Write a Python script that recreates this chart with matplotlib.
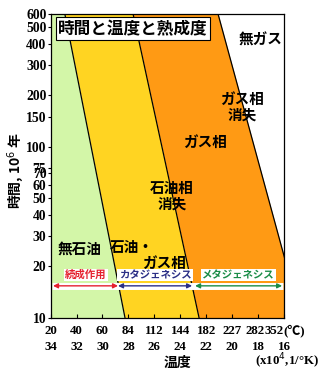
import numpy as np
import matplotlib
matplotlib.use("Agg")
import matplotlib.pyplot as plt

plt.rcParams['font.family'] = ['Noto Sans CJK JP', 'DejaVu Sans']

# 軸の目盛り (x は 1/T x10^-4, 上段は摂氏)
x_inv = [34, 32, 30, 28, 26, 24, 22, 20, 18, 16]
x_degc = ['20', '40', '60', '84', '112', '144', '182', '227', '282', '352']
y_ticks = [10, 20, 30, 40, 50, 60, 70, 75, 100, 150, 200, 300, 400, 500, 600]

# 境界線 (600 と 10 での x 値)
t_ends = [600, 10]
b_oil = [32.9, 28.26]     # 無石油 / 石油
b_gas = [27.64, 22.55]    # 石油 / ガス
b_nogas = [21.09, 14.7]   # ガス / 無ガス

# 段階の矢印 (x 範囲)
stage_names = ['続成作用', 'カタジェネシス', 'メタジェネシス']
stage_ranges = [(33.81, 28.80), (28.80, 23.09), (22.86, 16.15)]
stage_colors = ['#e5202e', '#2b2f86', '#1b8c47']
arrow_y = 15.4
label_y = 17.8

green = '#d3f6a8'
yellow = '#ffd422'
orange = '#ff9a14'

fig = plt.figure(figsize=(3.2, 3.74), dpi=100)
ax = fig.add_axes([0.158, 0.150, 0.7297, 0.8128])
ax.set_yscale('log')
ax.set_xlim(34, 16)
ax.set_ylim(10, 600)

# 領域の塗りつぶし
ax.fill_betweenx(t_ends, [34, 34], b_oil, color=green, lw=0)
ax.fill_betweenx(t_ends, b_oil, b_gas, color=yellow, lw=0)
ax.fill_betweenx(t_ends, b_gas, b_nogas, color=orange, lw=0)
for b in (b_oil, b_gas, b_nogas):
    ax.plot(b, t_ends, color='black', lw=0.9)

# 目盛り
serif = dict(family='Liberation Serif', weight='bold', size=9.8)
xserif = dict(family='Liberation Serif', weight='bold', size=9.3)
ax.set_yticks(y_ticks)
ax.set_yticklabels([str(v) for v in y_ticks], fontdict=serif)
ax.yaxis.set_minor_locator(matplotlib.ticker.NullLocator())
ax.tick_params(axis='y', direction='out', length=2.5, pad=0.5)
ax.set_xticks(x_inv)
ax.set_xticklabels(['' for v in x_inv])
ax.tick_params(axis='x', direction='in', length=3)

# 上段 (℃) の位置は右端だけ詰めてある
xt = ax.get_xaxis_transform()
top_pos = [34, 32, 30, 28, 26, 24, 22, 20, 18.2, 16.78]
for xv, pos, c in zip(x_inv, top_pos, x_degc):
    ax.text(pos, -0.043, c, transform=xt, ha='center', va='center', fontdict=xserif)
    ax.text(xv, -0.095, str(xv), transform=xt, ha='center', va='center', fontdict=xserif)
ax.text(16.05, -0.043, '(℃)', transform=xt, ha='left', va='center',
        family=['Liberation Serif', 'Noto Sans CJK JP'], weight='bold', size=9.3)

fig.text(0.897, 0.034, '(x10$^4$,1/°K)', ha='center', va='center',
         family='Liberation Serif', weight='bold', size=9.3)
fig.text(0.555, 0.029, '温度', ha='center', va='center', weight='bold', size=10)
fig.text(0.050, 0.543, '時間, 10$^6$ 年', ha='center', va='center',
         rotation=90, weight='bold', size=10)

# タイトル
ax.text(0.032, 0.951, '時間と温度と熟成度', transform=ax.transAxes,
        ha='left', va='center', weight='bold', size=12,
        bbox=dict(boxstyle='square,pad=0.15', fc='white', ec='black', lw=0.8))

# 領域ラベル
lab = dict(weight='bold', size=10.5, color='black', linespacing=1.0)
ax.text(17.85, 423, '無ガス', ha='center', va='center', **lab)
ax.text(19.24, 171, 'ガス相\n消失', ha='center', va='center', **lab)
ax.text(22.09, 107, 'ガス相', ha='center', va='center', **lab)
ax.text(24.63, 51.6, '石油相\n消失', ha='center', va='center', **lab)
ax.text(29.41, 26.0, '石油・', ha='left', va='center', **lab)
ax.text(26.95, 21.0, 'ガス相', ha='left', va='center', **lab)
ax.text(31.80, 25.4, '無石油', ha='center', va='center', **lab)

# 段階の矢印
ax.plot([33.9, 16.05], [arrow_y, arrow_y], color='white', lw=5, solid_capstyle='butt')
for name, (x0, x1), col in zip(stage_names, stage_ranges, stage_colors):
    ax.annotate('', xy=(x1, arrow_y), xytext=(x0, arrow_y),
                arrowprops=dict(arrowstyle='<|-|>', color=col, lw=1.0,
                                mutation_scale=7, shrinkA=0, shrinkB=0))
    ax.text((x0 + x1) / 2, label_y, name, ha='center', va='center',
            color=col, weight='bold', size=7.5,
            bbox=dict(boxstyle='square,pad=0.12', fc='white', ec='none'))

for s in ax.spines.values():
    s.set_linewidth(0.9)

fig.savefig('out.png', dpi=100)
